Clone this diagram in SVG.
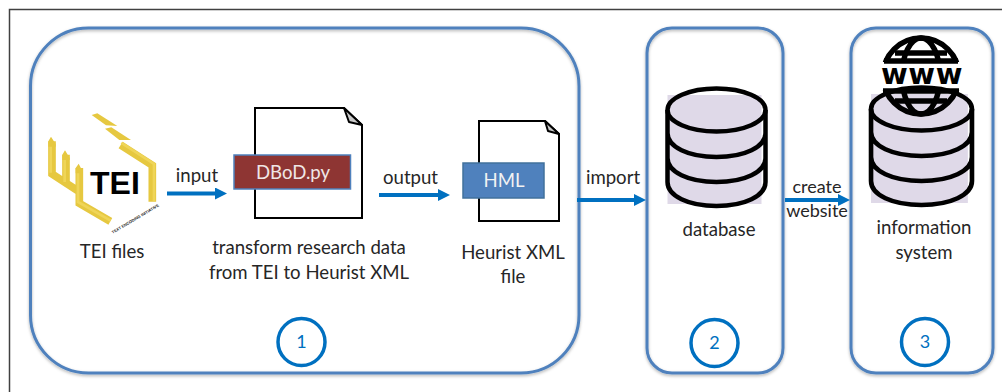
<svg xmlns="http://www.w3.org/2000/svg" width="1002" height="392" viewBox="0 0 1002 392">
<style>
text{font-family:"Lato","Open Sans",sans-serif;font-size:18.600px;fill:#262626;text-anchor:middle}
.panel{fill:none;stroke:#4f81bd;stroke-width:3;filter:url(#sh)}
.num{fill:none;stroke:#0070c0;stroke-width:3.500}
.n{fill:#0070c0;font-size:18px}
.doc{fill:#fff;stroke:#000;stroke-width:2}
.fold{fill:#c9c9c9;stroke:#000;stroke-width:2;stroke-linejoin:round}
.ar{fill:none;stroke:#0070c0;stroke-width:4;marker-end:url(#ah)}
.db{fill:none;stroke:#000;stroke-width:4.500}
.gl{fill:none;stroke:#000;stroke-width:5.500}
.yb{fill:none;stroke:#e6c840;stroke-width:23;stroke-linejoin:miter}
.yh{fill:none;stroke:#efd558;stroke-width:8;stroke-linejoin:miter}
.y{fill:#e6c840}
</style>
<defs>
<filter id="sh" x="-5%" y="-5%" width="110%" height="110%"><feDropShadow dx="0" dy="1.500" stdDeviation="1.500" flood-color="#000" flood-opacity=".3"/></filter>
<marker id="ah" viewBox="0 0 12 12" refX="0" refY="6" markerUnits="userSpaceOnUse" markerWidth="12" markerHeight="12" orient="auto"><path d="M0 0L12 6L0 12Z" fill="#0070c0"/></marker>
<g id="cyl">
<rect x="1" y="9" width="94" height="109" fill="#dfd9e8"/>
<ellipse cx="50" cy="24" rx="49" ry="21.500" class="db"/>
<path class="db" d="M1 24V96C1 110 22 120 50 120S99 110 99 96V24M1 47C1 61 22 71 50 71S99 61 99 47M1 72C1 86 22 96 50 96S99 86 99 72"/>
</g>
<clipPath id="gc"><rect x="875" y="30" width="95" height="32"/><rect x="875" y="90" width="95" height="32"/></clipPath>
</defs>
<path d="M9.500 392V9.500H1002" fill="none" stroke="#404040" stroke-width="1.500"/>

<g id="panel1"><rect class="panel" x="30.500" y="28" width="548.500" height="345" rx="58" ry="58"/></g>
<g id="panel2"><rect class="panel" x="647" y="28" width="136" height="345" rx="25" ry="25"/></g>
<g id="panel3"><rect class="panel" x="851" y="28" width="142" height="345" rx="25" ry="25"/></g>

<g id="tei">
<g transform="translate(30 90) scale(.3333)">
<path class="y" d="M185 75L202 70L262 108L228 106Z"/>
<path class="y" d="M225 116L244 112L303 150L268 150Z"/>
<path class="yb" d="M272 165L367 226V335"/>
<path class="yh" d="M274 159L372 222V333"/>
<path class="yb" d="M66 154V252L148 305M108 194V282M148 234V340L241 394"/>
<path class="yh" d="M62 152V248M104 192V276M144 232V336L242 392"/>
<path class="y" d="M55 154L63 140L77 162V170H55ZM97 194L105 181L119 204V210H97ZM137 234L146 221L159 246V250H137Z"/>
</g>
<text x="90" y="194" style="font-family:'Liberation Sans',sans-serif;font-size:32px;font-weight:700;text-anchor:start;fill:#000">TEI</text>
<text transform="translate(136 220) rotate(-30.700)" style="font-family:'Liberation Sans',sans-serif;font-size:4px;font-weight:700;fill:#111" textLength="54">TEXT ENCODING INITIATIVE</text>
<text x="112" y="258">TEI files</text>
</g>

<g id="script">
<path class="doc" d="M255 108H344L362 125V218H255Z"/>
<path class="fold" d="M344 108L362 125L349 122Z"/>
<rect x="234" y="155" width="116.500" height="34" fill="#8e3533" stroke="#4f81bd" stroke-width="1.500"/>
<text x="293" y="179" style="fill:#efe6e6">DBoD.py</text>
<text x="309" y="254">transform research data</text>
<text x="309" y="279">from TEI to Heurist XML</text>
</g>

<g id="hml">
<path class="doc" d="M479 121H545L559 134V221H479Z"/>
<path class="fold" d="M545 121L559 134L548 131Z"/>
<rect x="463" y="163" width="81" height="35" fill="#4f81bd" stroke="#41719c" stroke-width="1.500"/>
<text x="504" y="187" style="fill:#f2f2f2">HML</text>
<text x="513" y="259">Heurist XML</text>
<text x="513" y="283">file</text>
</g>

<g id="database">
<use href="#cyl" x="666.500" y="86"/>
<text x="719" y="236">database</text>
</g>

<g id="system">
<use href="#cyl" transform="translate(870 85) scale(1.030 1)"/>
<g clip-path="url(#gc)">
<circle class="gl" cx="921" cy="76" r="38"/>
<ellipse class="gl" cx="921" cy="76" rx="19" ry="38"/>
</g>
<path class="gl" d="M895 53H947M884 61H958M883 91H959M895 101H947"/>
<text x="922" y="84" style="font-family:'DejaVu Sans',sans-serif;font-weight:700;font-size:29px;letter-spacing:.5px;fill:#000">www</text>
<text x="924" y="234">information</text>
<text x="924" y="259">system</text>
</g>

<g id="connectors">
<path class="ar" d="M167 193.500H215"/>
<path class="ar" d="M379 195H438"/>
<path class="ar" d="M577 200H634"/>
<path class="ar" d="M785 200H838"/>
</g>
<g id="labels">
<text x="197" y="182">input</text>
<text x="410.500" y="184">output</text>
<text x="613" y="184">import</text>
<text x="817" y="193" style="font-size:18px">create</text>
<text x="817" y="217" style="font-size:18px">website</text>
</g>

<g id="step1"><circle class="num" cx="301.500" cy="342" r="23.500"/><text class="n" x="301.500" y="348">1</text></g>
<g id="step2"><circle class="num" cx="714.500" cy="343" r="23.500"/><text class="n" x="714.500" y="349">2</text></g>
<g id="step3"><circle class="num" cx="925" cy="342" r="23.500"/><text class="n" x="925" y="348">3</text></g>
</svg>
